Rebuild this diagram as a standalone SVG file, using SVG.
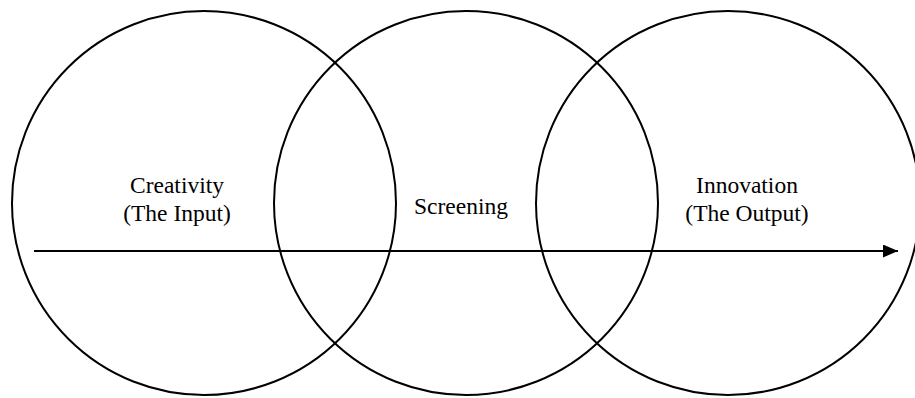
<svg xmlns="http://www.w3.org/2000/svg" width="915" height="398" viewBox="0 0 915 398">
<style>
.c{fill:none;stroke:#000;stroke-width:2}
.t{font-family:"Liberation Serif","Times New Roman",serif;font-size:23.5px;fill:#000;text-anchor:middle}
</style>
<defs>
<marker id="ah" markerWidth="15" markerHeight="13" refX="15" refY="6.5" orient="auto" markerUnits="userSpaceOnUse">
<path d="M0,0 L15,6.5 L0,13 Z" fill="#000"/>
</marker>
</defs>
<rect width="915" height="398" fill="#fff"/>
<g id="creativity">
<circle class="c" cx="204" cy="203" r="192"/>
<text class="t" x="177" y="193">Creativity</text>
<text class="t" x="177" y="221">(The Input)</text>
</g>
<g id="screening">
<circle class="c" cx="466" cy="203" r="192"/>
<text class="t" x="461" y="214">Screening</text>
</g>
<g id="innovation">
<circle class="c" cx="728" cy="203" r="192"/>
<text class="t" x="747" y="193">Innovation</text>
<text class="t" x="747" y="221">(The Output)</text>
</g>
<g id="connectors">
<line x1="34" y1="251" x2="898" y2="251" stroke="#000" stroke-width="2" marker-end="url(#ah)"/>
</g>
</svg>
